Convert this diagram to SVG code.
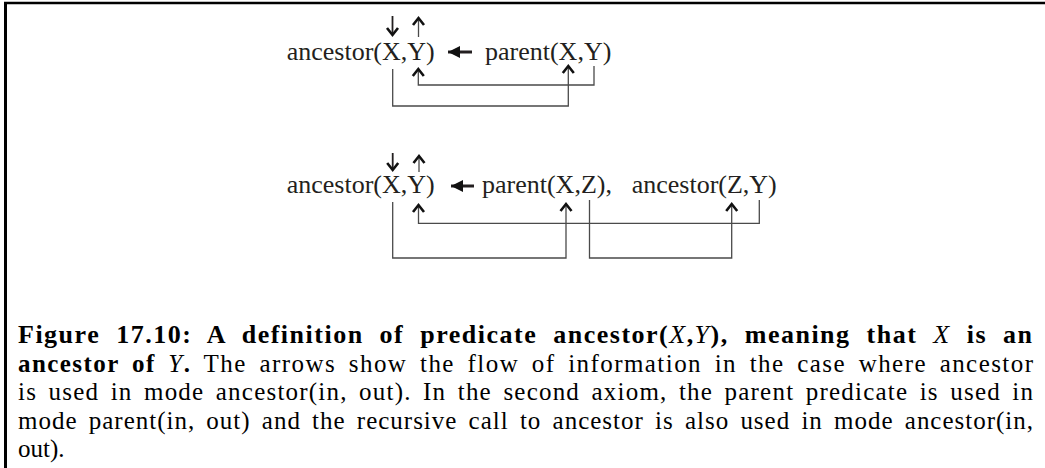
<svg xmlns="http://www.w3.org/2000/svg" width="1045" height="468" viewBox="0 0 1045 468">
<style>
.t{font-family:"Liberation Serif","Times New Roman",serif;font-size:26px;fill:#231f20}
.c{font-family:"Liberation Serif","Times New Roman",serif;font-size:25px;fill:#000;word-spacing:4px}
.c1{font-size:26px;word-spacing:8px;letter-spacing:1px}
.c2{word-spacing:5px}
.b{font-weight:bold}
.i{font-style:italic;font-weight:normal}
.ln{fill:none;stroke:#4a4a4a;stroke-width:1.3}
.ar{fill:none;stroke:#231f20;stroke-width:1.8}
.bl{fill:none;stroke:#231f20;stroke-width:3}
</style>
<defs>
<marker id="chev" markerUnits="userSpaceOnUse" markerWidth="18" markerHeight="18" viewBox="-9 -9 18 18" refX="0" refY="0" orient="auto">
<path d="M-7,-5.5 L0,0 L-7,5.5" fill="none" stroke="#111" stroke-width="2.6"/>
</marker>
<marker id="tri" markerUnits="userSpaceOnUse" markerWidth="18" markerHeight="18" viewBox="-14 -9 18 18" refX="0" refY="0" orient="auto">
<path d="M-12,-6 L0,0 L-12,6 Z" fill="#111"/>
</marker>
</defs>
<rect width="1045" height="468" fill="#fff"/>
<g id="frame">
<line x1="4" y1="3" x2="1045" y2="3" stroke="#000" stroke-width="2.5"/>
<line x1="5.5" y1="2" x2="5.5" y2="468" stroke="#000" stroke-width="3"/>
</g>
<g id="head1"><text class="t" x="286.7" y="60">ancestor(X,Y)</text></g>
<g id="body1"><text class="t" x="485" y="60">parent(X,Y)</text></g>
<g id="head2"><text class="t" x="286.7" y="193">ancestor(X,Y)</text></g>
<g id="body2a"><text class="t" x="482" y="193">parent(X,Z),</text></g>
<g id="body2b"><text class="t" x="631.7" y="193">ancestor(Z,Y)</text></g>
<g id="connectors">
<path class="ar" d="M392.5,16 V35" marker-end="url(#chev)"/>
<path class="ln" d="M418.5,37 V18" marker-end="url(#chev)"/>
<path class="bl" d="M472,52 H448" marker-end="url(#tri)"/>
<path class="ln" d="M392.7,69 V106 H568.3 V66" marker-end="url(#chev)"/>
<path class="ln" d="M594,66 V85 H418.3 V69" marker-end="url(#chev)"/>
<path class="ar" d="M392.7,153 V170" marker-end="url(#chev)"/>
<path class="ln" d="M419,172 V156" marker-end="url(#chev)"/>
<path class="bl" d="M474,186 H451" marker-end="url(#tri)"/>
<path class="ln" d="M392.7,202 V258 H566 V204" marker-end="url(#chev)"/>
<path class="ln" d="M589.5,200 V258 H731.7 V204" marker-end="url(#chev)"/>
<path class="ln" d="M759.3,200 V223.3 H418.5 V205" marker-end="url(#chev)"/>
</g>
<g id="caption">
<text class="c c1 b" x="18" y="343" textLength="1015" lengthAdjust="spacing">Figure 17.10: A definition of predicate ancestor(<tspan class="i">X</tspan>,<tspan class="i">Y</tspan>), meaning that <tspan class="i">X</tspan> is an</text>
<text class="c c2" x="18" y="371.5" textLength="1015" lengthAdjust="spacing"><tspan class="b">ancestor of </tspan><tspan class="i">Y</tspan><tspan class="b">.</tspan> The arrows show the flow of information in the case where ancestor</text>
<text class="c" x="18" y="400" textLength="1015" lengthAdjust="spacing">is used in mode ancestor(in, out). In the second axiom, the parent predicate is used in</text>
<text class="c" x="18" y="428.5" textLength="1015" lengthAdjust="spacing">mode parent(in, out) and the recursive call to ancestor is also used in mode ancestor(in,</text>
<text class="c" x="18" y="457">out).</text>
</g>
</svg>
